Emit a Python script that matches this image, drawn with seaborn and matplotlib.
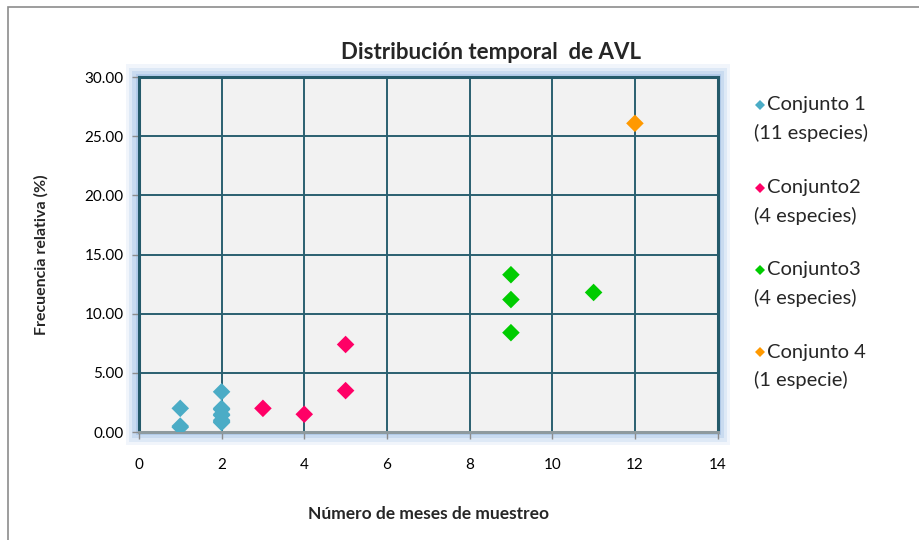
import matplotlib
matplotlib.use("Agg")
import matplotlib.pyplot as plt
from matplotlib.patches import Rectangle
import seaborn as sns
import pandas as pd

# Monthly occurrence vs relative frequency, by species group
meses_c1 = [1, 1, 1, 2, 2, 2, 2, 2, 2, 2, 2]
frec_c1 = [2.0, 0.5, 0.4, 3.4, 2.0, 1.9, 1.5, 1.4, 1.0, 0.9, 0.8]
meses_c2 = [3, 4, 5, 5]
frec_c2 = [2.0, 1.5, 7.4, 3.5]
meses_c3 = [9, 9, 9, 11]
frec_c3 = [13.3, 11.2, 8.4, 11.8]
meses_c4 = [12]
frec_c4 = [26.1]

grupos = ["Conjunto 1", "Conjunto2", "Conjunto3", "Conjunto 4"]
subtitulos = ["(11 especies)", "(4 especies)", "(4 especies)", "(1 especie)"]
colores = ["#4BACC6", "#FF0066", "#00CC00", "#FF9900"]

x_ticks = [0, 2, 4, 6, 8, 10, 12, 14]
y_ticks = [0, 5, 10, 15, 20, 25, 30]

df = pd.DataFrame({
    "meses": meses_c1 + meses_c2 + meses_c3 + meses_c4,
    "frec": frec_c1 + frec_c2 + frec_c3 + frec_c4,
    "grupo": [grupos[0]] * len(meses_c1) + [grupos[1]] * len(meses_c2)
             + [grupos[2]] * len(meses_c3) + [grupos[3]] * len(meses_c4),
})

sns.set_theme(style="white")
plt.rcParams["font.family"] = ["Lato", "DejaVu Sans"]

fig = plt.figure(figsize=(9.2, 5.4), dpi=100)
L, B, W, H = 0.151, 0.2, 0.629, 0.657
ax = fig.add_axes([L, B, W, H])
ax.set_zorder(5)

# outer chart border (runs off the right and bottom edges)
fig.patches.append(Rectangle((0.0087, -0.05), 1.1, 0.037 + 1.0, transform=fig.transFigure,
                             fill=False, edgecolor="#8C8C8C", linewidth=1.2, zorder=0))

# soft blue glow around the plot area
for i, a in enumerate([0.12, 0.18, 0.26, 0.36]):
    pad = (4 - i) * 0.0035
    fig.patches.append(Rectangle((L - pad, B - pad * 1.7), W + 2 * pad, H + 3.4 * pad,
                                 transform=fig.transFigure, facecolor="#8DB4E2",
                                 edgecolor="none", alpha=a, zorder=0))

ax.set_facecolor("#F2F2F2")
sns.scatterplot(data=df, x="meses", y="frec", hue="grupo", hue_order=grupos,
                palette=colores, marker="D", s=80, linewidth=0, legend=False,
                ax=ax, zorder=3)

ax.set_xlim(0, 14)
ax.set_ylim(0, 30)
ax.set_xticks(x_ticks)
ax.set_yticks(y_ticks)
ax.set_yticklabels([f"{v:.2f}" for v in y_ticks])
ax.grid(True, color="#2A6070", linewidth=1.4)
ax.set_axisbelow(True)
for s in ax.spines.values():
    s.set_color("#245A6A")
    s.set_linewidth(2.2)
ax.spines["bottom"].set_color("#8E9A9E")
ax.tick_params(axis="both", which="both", length=5, width=1, color="#8C8C8C",
               direction="out", labelsize=11, labelcolor="black",
               bottom=True, left=True)
ax.tick_params(axis="x", pad=14)
ax.tick_params(axis="y", pad=6)

ax.set_xlabel("Número de meses de muestreo", fontsize=12.5, fontweight="bold", labelpad=24)
ax.set_ylabel("Frecuencia relativa (%)", fontsize=11.5, fontweight="bold", labelpad=26)
fig.text(0.534, 0.903, "Distribución temporal  de AVL", fontsize=16, fontweight="bold",
         ha="center", va="center")

# legend: diamond beside the group name, species count on the next line
ys = [0.806, 0.652, 0.500, 0.348]
for y, nombre, sub, c in zip(ys, grupos, subtitulos, colores):
    fig.lines.append(plt.Line2D([0.8265], [y], marker="D", markersize=5.5, color=c,
                                markeredgewidth=0, linestyle="none",
                                transform=fig.transFigure))
    fig.text(0.8335, y, nombre, fontsize=14.5, va="center", ha="left")
    fig.text(0.8195, y - 0.052, sub, fontsize=14.5, va="center", ha="left")

fig.savefig("out.png", dpi=100)
